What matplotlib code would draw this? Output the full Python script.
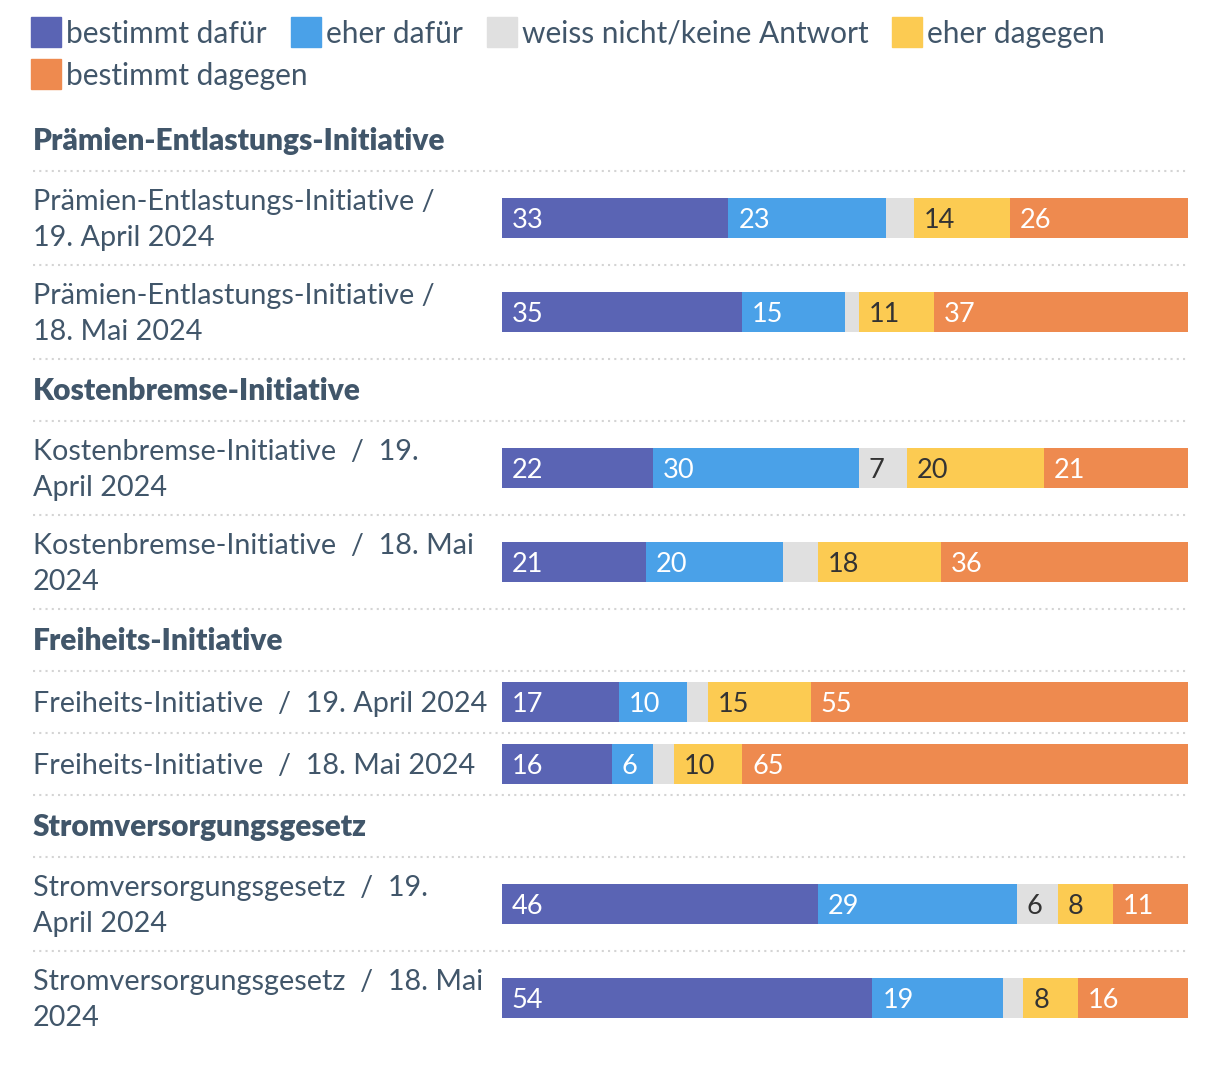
import numpy as np
import matplotlib
matplotlib.use("Agg")
from matplotlib import pyplot as plt
from matplotlib.patches import Rectangle
from matplotlib.transforms import blended_transform_factory

plt.rcParams['font.family'] = ['Lato', 'DejaVu Sans']

# Data
categories = ["bestimmt dafür", "eher dafür", "weiss nicht/keine Antwort",
              "eher dagegen", "bestimmt dagegen"]
colors = ["#5a64b4", "#4aa1e8", "#e0e0e0", "#fccb52", "#ee8a4f"]
label_colors = ["white", "white", "#333333", "#333333", "white"]

groups = ["Prämien-Entlastungs-Initiative", "Kostenbremse-Initiative",
          "Freiheits-Initiative", "Stromversorgungsgesetz"]
row_labels = [
    ["Prämien-Entlastungs-Initiative /\n19. April 2024",
     "Prämien-Entlastungs-Initiative /\n18. Mai 2024"],
    ["Kostenbremse-Initiative  /  19.\nApril 2024",
     "Kostenbremse-Initiative  /  18. Mai\n2024"],
    ["Freiheits-Initiative  /  19. April 2024",
     "Freiheits-Initiative  /  18. Mai 2024"],
    ["Stromversorgungsgesetz  /  19.\nApril 2024",
     "Stromversorgungsgesetz  /  18. Mai\n2024"],
]
bestimmt_dafuer = [33, 35, 22, 21, 17, 16, 46, 54]
eher_dafuer = [23, 15, 30, 20, 10, 6, 29, 19]
weiss_nicht = [4, 2, 7, 5, 3, 3, 6, 3]
eher_dagegen = [14, 11, 20, 18, 15, 10, 8, 8]
bestimmt_dagegen = [26, 37, 21, 36, 55, 65, 11, 16]

series = np.array([bestimmt_dafuer, eher_dafuer, weiss_nicht,
                   eher_dagegen, bestimmt_dagegen], dtype=float)

W, H = 1220, 1086
text_col = "#41566a"
fs = 20.7
fig = plt.figure(figsize=(W / 100, H / 100), dpi=100)

# axes spans full height, y in pixel units
x0, x1 = 502, 1188
ax = fig.add_axes([x0 / W, 0, (x1 - x0) / W, 1])
ax.set_xlim(0, series.sum(axis=0).max())
ax.set_ylim(H, 0)
ax.axis("off")
tr = blended_transform_factory(fig.transFigure, ax.transData)

def hline(y):
    ax.plot([33 / W, x1 / W], [y, y], transform=tr, color="#d4d4d4",
            lw=1.5, ls=(0, (1, 2)), clip_on=False)

# layout rows
y = 109
idx = 0
centers = []
for g, labels in zip(groups, row_labels):
    ax.text(33 / W, y + 32, g, transform=tr, fontsize=21.5, fontweight="heavy",
            color=text_col, va="center", ha="left")
    y += 62
    hline(y)
    for lab in labels:
        h = 94 if "\n" in lab else 62
        c = y + h / 2
        centers.append(c)
        ax.text(33 / W, c + 2, lab, transform=tr, fontsize=fs, color=text_col,
                va="center", ha="left", linespacing=1.52)
        y += h
        if idx < len(bestimmt_dafuer) - 1:
            hline(y)
        idx += 1

centers = np.array(centers)
left = np.zeros(len(centers))
for i in range(len(categories)):
    ax.barh(centers, series[i], left=left, height=40, color=colors[i], lw=0)
    for c, l, v in zip(centers, left, series[i]):
        if v >= 6:
            ax.text(l + 1.45, c + 2, f"{int(v)}", color=label_colors[i],
                    fontsize=19.5, va="center", ha="left")
    left += series[i]

# legend (manual, wrapping)
fig.canvas.draw()
r = fig.canvas.get_renderer()
lx, ly = 31, 32
for cat, col in zip(categories, colors):
    t = fig.text(0, 0, cat, fontsize=21.5, color=text_col, va="center")
    w = t.get_window_extent(r).width
    if lx + 35 + w > x1:
        lx = 31
        ly += 42
    fig.patches.append(Rectangle(((lx) / W, 1 - (ly + 15) / H), 30 / W, 30 / H,
                                 transform=fig.transFigure, color=col))
    t.set_position(((lx + 35) / W, 1 - (ly + 2) / H))
    lx += 35 + w + 24

fig.savefig("out.png", dpi=100)
